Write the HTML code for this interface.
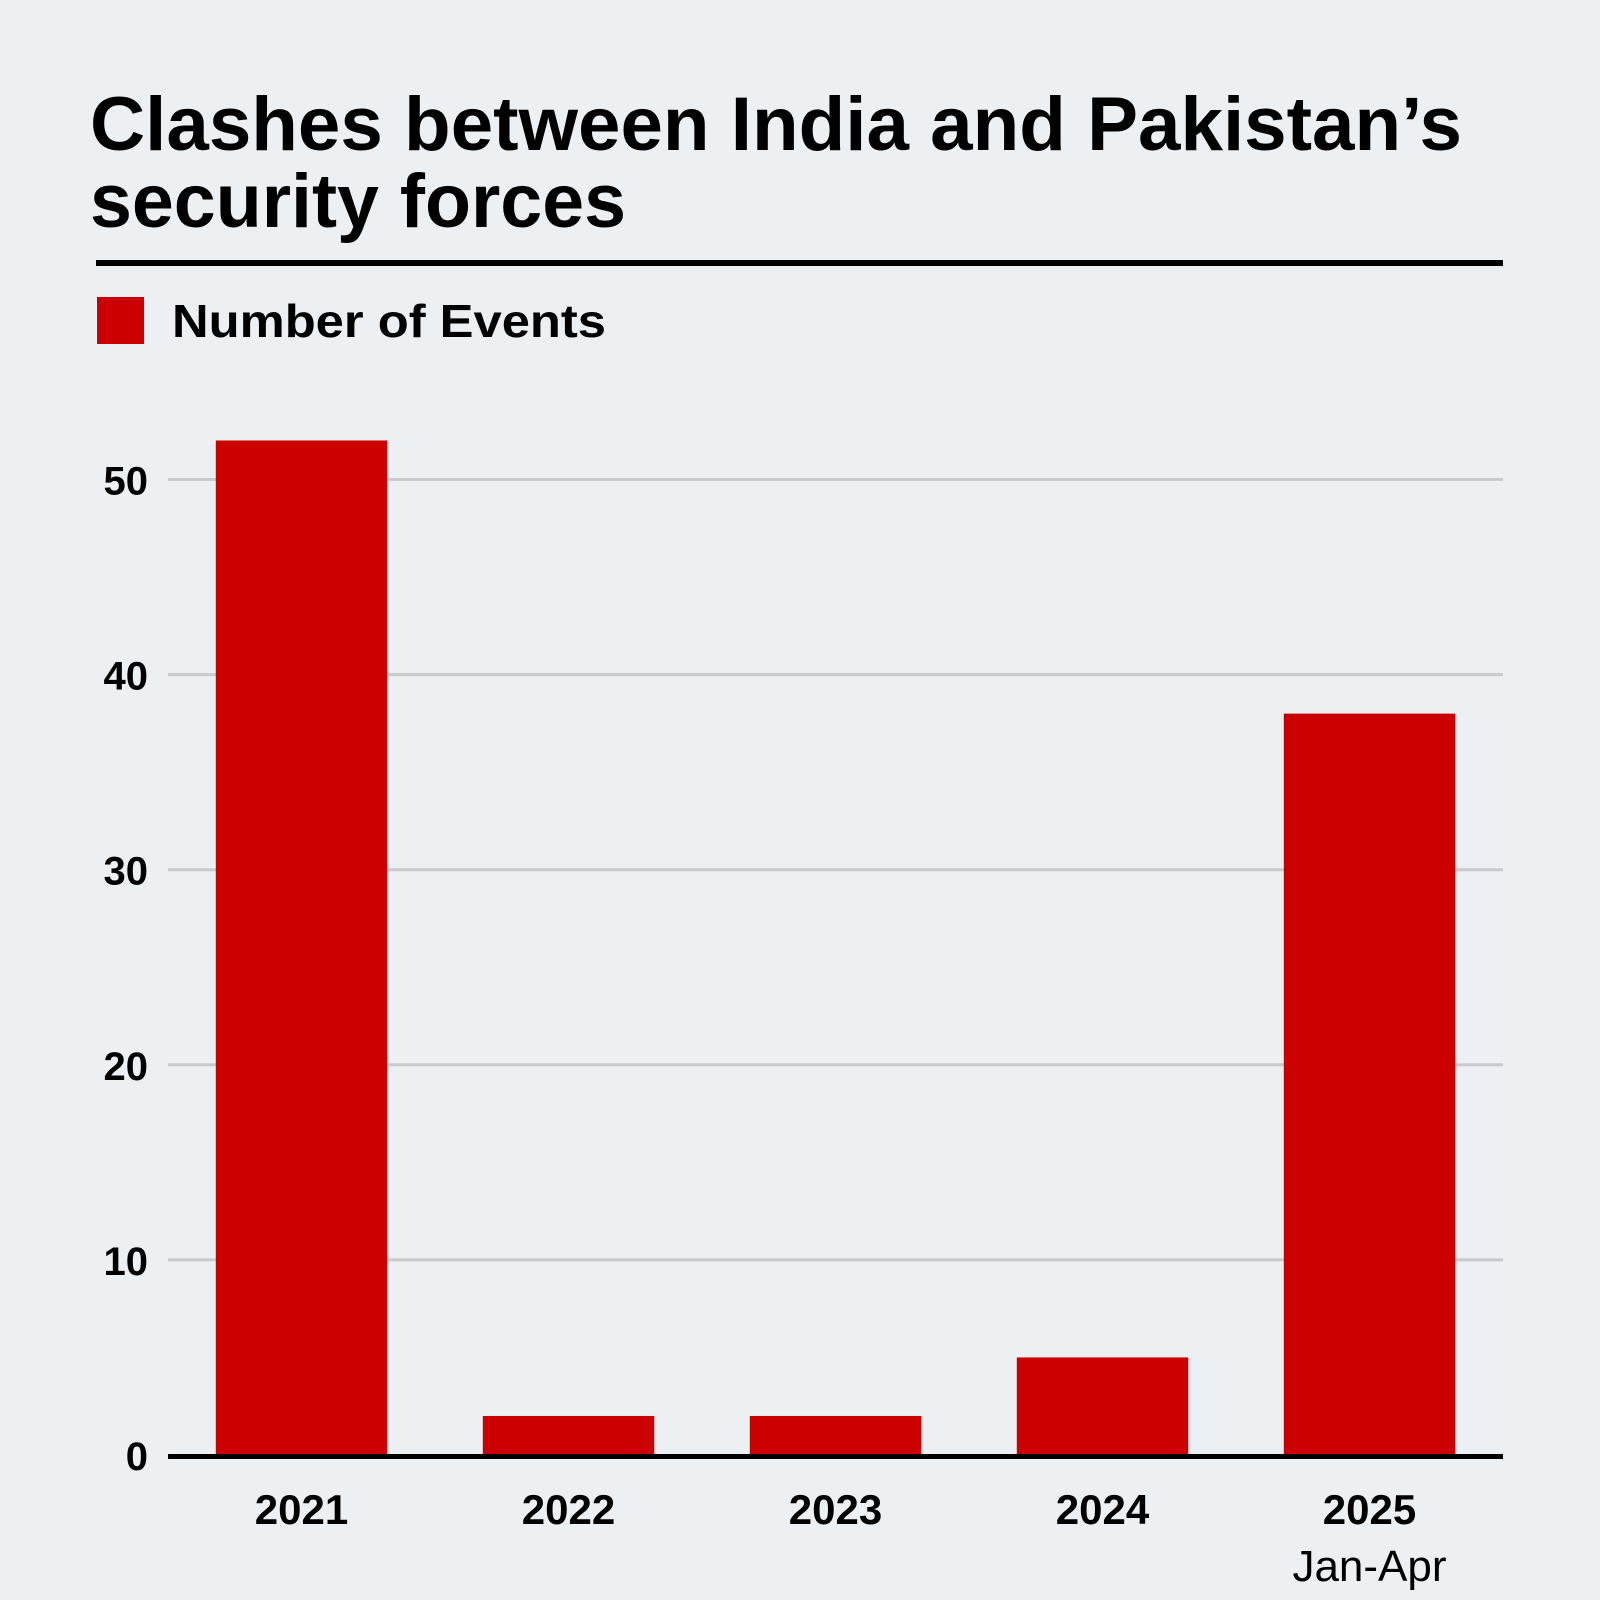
<!DOCTYPE html>
<html><head><meta charset="utf-8"><style>
html,body{margin:0;padding:0;background:#edf0f2;}
svg{display:block;font-family:"Liberation Sans",sans-serif;}
</style></head><body>
<svg id="chart" width="1600" height="1600" viewBox="0 0 1600 1600" xmlns="http://www.w3.org/2000/svg">
<rect width="1600" height="1600" fill="#edf0f2"/>
<text x="90" y="150" font-size="76" font-weight="bold" fill="#000" textLength="1372" lengthAdjust="spacingAndGlyphs">Clashes between India and Pakistan’s</text>
<text x="90" y="227" font-size="76" font-weight="bold" fill="#000" textLength="536" lengthAdjust="spacingAndGlyphs">security forces</text>
<rect x="96" y="260" width="1407" height="6" fill="#000"/>
<g>
<rect x="97" y="297" width="47" height="47" fill="#cc0000"/>
<text x="172" y="337" font-size="46" font-weight="bold" fill="#000" textLength="434" lengthAdjust="spacingAndGlyphs">Number of Events</text>
</g>
<g id="grid"></g><g id="bars"></g><g id="axes"></g>
</svg>
<script>
const categories = ["2021","2022","2023","2024","2025"];
const values = [52, 2, 2, 5, 38];
const yTicks = [0,10,20,30,40,50];
const ns = "http://www.w3.org/2000/svg";
const X0 = 168, X1 = 1503, Y0 = 1455, perUnit = 19.51;
const band = (X1 - X0) / categories.length;
const xC = i => X0 + band * (i + 0.5);
const y = v => Y0 - v * perUnit;
function mk(tag, attrs, parent){const e=document.createElementNS(ns,tag);for(const k in attrs)e.setAttribute(k,attrs[k]);parent.appendChild(e);return e;}
const grid=document.getElementById('grid'), bars=document.getElementById('bars'), axes=document.getElementById('axes');
yTicks.forEach(t=>{
  if(t>0){const l=mk('line',{x1:X0,x2:X1,y1:y(t),y2:y(t),stroke:'#c8cbce','stroke-width':3},grid);
  
  }
  const tx=mk('text',{x:148,y:y(t)+15,'font-size':40,'font-weight':'bold','text-anchor':'end',fill:'#000'},axes);
  tx.textContent=t;
  
  
});
const bw = band*0.642;
values.forEach((v,i)=>{
  const r=mk('rect',{x:xC(i)-bw/2,y:y(v),width:bw,height:Y0-y(v),fill:'#cc0000'},bars);
  
  
  const tx=mk('text',{x:xC(i),y:1524,'font-size':42,'font-weight':'bold','text-anchor':'middle',fill:'#000'},axes);
  tx.textContent=categories[i];
  
  
});
const sub=mk('text',{x:xC(4),y:1581,'font-size':44,'text-anchor':'middle',fill:'#000'},axes);
sub.textContent='Jan-Apr';


const base=mk('rect',{x:X0,y:Y0-1,width:X1-X0,height:5,fill:'#000'},axes);


</script>
</body></html>
